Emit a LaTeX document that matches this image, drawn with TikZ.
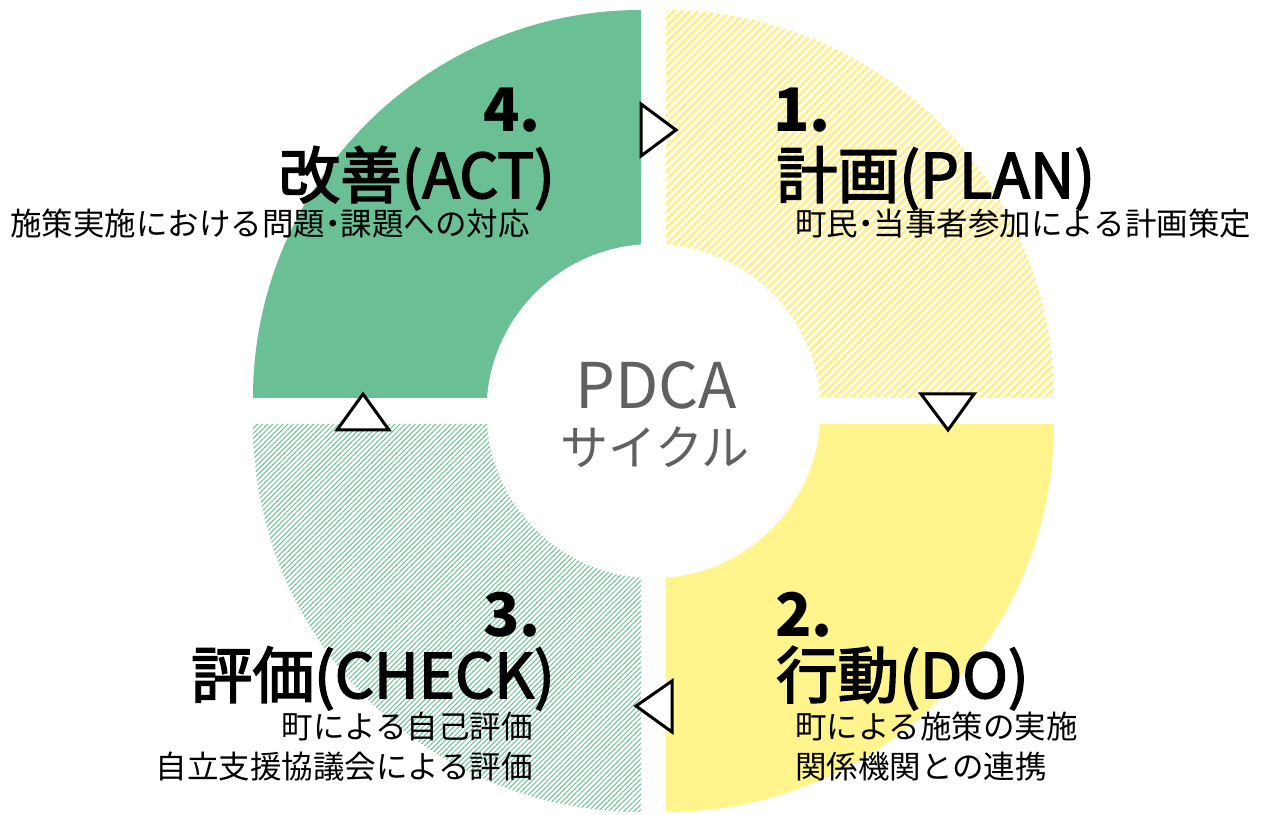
\documentclass[tikz,border=0pt]{standalone}
\usepackage{fontspec}
\setmainfont{Noto Sans CJK JP}
\newfontfamily\headfont[FakeBold=2.6]{Noto Sans CJK JP}
\usetikzlibrary{patterns.meta}
\definecolor{grn}{HTML}{6ABF95}
\definecolor{ylw}{HTML}{FFF58C}
\definecolor{ylwh}{HTML}{FFEF85}
\definecolor{cgray}{HTML}{606060}
\newcommand{\hdot}{\hspace{-0.25em}・\hspace{-0.25em}}
\tikzset{
  numtxt/.style={inner sep=0pt, font=\fontsize{60}{60}\selectfont\bfseries},
  titletxt/.style={inner sep=0pt, font=\headfont\fontsize{61.5}{61.5}\selectfont},
  subtxt/.style={inner sep=0pt, font=\fontsize{31.5}{31.5}\selectfont},
  centertxt/.style={inner sep=0pt, text=cgray},
  tri/.style={draw=black, fill=white, line width=3pt, line join=miter},
  yhatch/.style={pattern={Lines[angle=45,distance=5.7pt,line width=2.8pt]}, pattern color=ylwh},
  ghatch/.style={pattern={Lines[angle=45,distance=3.6pt,line width=1.0pt]}, pattern color=grn}
}
\begin{document}
\begin{tikzpicture}[x=1pt,y=1pt]
\useasboundingbox (0,0) rectangle (1265,814);
% quadrants
\fill[yhatch] (666,416) -- (1054,416) arc[start angle=0,end angle=90,radius=388] -- cycle;
\fill[ylw] (666,390) -- (666,2) arc[start angle=-90,end angle=0,radius=388] -- cycle;
\fill[ghatch] (641,390) -- (253,390) arc[start angle=180,end angle=270,radius=388] -- cycle;
\fill[grn] (641,416) -- (641,804) arc[start angle=90,end angle=180,radius=388] -- cycle;
% centre hole
\fill[white] (653.5,403) circle[radius=167];
% triangles
\coordinate (t1a) at (641,710); \coordinate (t1b) at (641,658); \coordinate (t1c) at (676,684);
\draw[tri] (t1a) -- (t1c) -- (t1b) -- cycle;
\coordinate (t2a) at (921,420); \coordinate (t2b) at (974,420); \coordinate (t2c) at (948,384);
\draw[tri] (t2a) -- (t2b) -- (t2c) -- cycle;
\coordinate (t3a) at (672,133); \coordinate (t3b) at (672,82); \coordinate (t3c) at (636,108);
\draw[tri] (t3a) -- (t3b) -- (t3c) -- cycle;
\coordinate (t4a) at (337,384); \coordinate (t4b) at (389,384); \coordinate (t4c) at (363,420);
\draw[tri] (t4a) -- (t4b) -- (t4c) -- cycle;
% centre text
\node[centertxt, anchor=base, font=\fontsize{63}{63}\selectfont] (pdca) at (656,405) {PDCA};
\node[centertxt, anchor=base, font=\fontsize{48}{48}\selectfont] (cycle) at (655,348) {サイクル};
% 1 PLAN
\node[numtxt, anchor=base west] (n1) at (773,682) {1.};
\node[titletxt, anchor=base west] (t1) at (776,616) {計画(PLAN)};
\node[subtxt, anchor=base west] (s1) at (795,578) {町民\hdot 当事者参加による計画策定};
% 2 DO
\node[numtxt, anchor=base west] (n2) at (775,178) {2.};
\node[titletxt, anchor=base west] (t2) at (776,116) {行動(DO)};
\node[subtxt, anchor=base west] (s2a) at (795,76) {町による施策の実施};
\node[subtxt, anchor=base west] (s2b) at (795,36) {関係機関との連携};
% 3 CHECK
\node[numtxt, anchor=base east] (n3) at (541,178) {3.};
\node[titletxt, anchor=base east] (t3) at (555,116) {評価(CHECK)};
\node[subtxt, anchor=base east] (s3a) at (533,76) {町による自己評価};
\node[subtxt, anchor=base east] (s3b) at (533,36) {自立支援協議会による評価};
% 4 ACT
\node[numtxt, anchor=base east] (n4) at (541,682) {4.};
\node[titletxt, anchor=base east] (t4) at (555,616) {改善(ACT)};
\node[subtxt, anchor=base east] (s4) at (530,578) {施策実施における問題\hdot 課題への対応};
\end{tikzpicture}
\end{document}
